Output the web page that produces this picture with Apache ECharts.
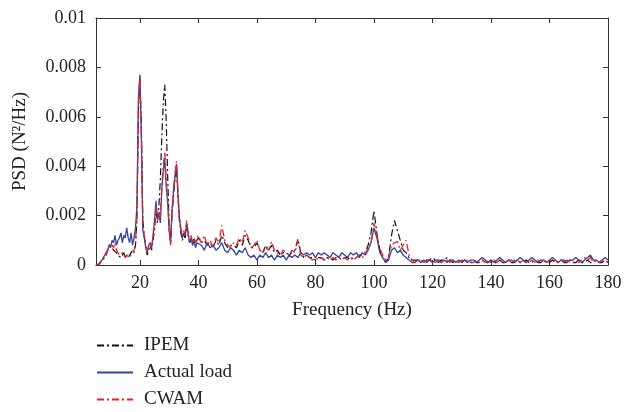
<!DOCTYPE html>
<html>
<head>
<meta charset="utf-8">
<script src="https://cdn.jsdelivr.net/npm/echarts@6/dist/echarts.min.js"></script>
<style>
html,body{margin:0;padding:0;background:#fff;}
#chart{width:624px;height:412px;}
</style>
</head>
<body>
<div id="chart"></div>
<script>
// Frequency grid (Hz)
const freq = [
5,5.5,6,6.5,7,7.5,8,8.5,9,9.5,10,10.5,11,11.5,12,12.5,13,13.5,14,14.5,
15,15.5,16,16.5,17,17.5,18,18.5,19,19.5,20,20.5,21,21.5,22,22.5,23,23.5,24,24.5,
25,25.5,26,26.5,27,27.5,28,28.5,29,29.5,30,30.5,31,31.5,32,32.5,33,33.5,34,34.5,
35,35.5,36,36.5,37,37.5,38,38.5,39,39.5,40,
41,42,43,44,45,46,47,48,49,50,51,52,53,54,55,56,57,58,59,60,
61,62,63,64,65,66,67,68,69,70,71,72,73,74,75,76,77,78,79,80,
81,82,83,84,85,86,87,88,89,90,91,92,93,94,95,96,97,98,99,100,
101,102,103,104,105,106,107,108,109,110,111,112,113,114,115,116,117,118,119,120,
121,122,123,124,125,126,127,128,129,130,131,132,133,134,135,136,137,138,139,140,
141,142,143,144,145,146,147,148,149,150,151,152,153,154,155,156,157,158,159,160,
161,162,163,164,165,166,167,168,169,170,171,172,173,174,175,176,177,178,179,180
];

const ipem = [
0,0,0,0.0001,0.0002,0.0002,0.0003,0.0004,0.0006,0.0007,
0.0008,0.0007,0.0006,0.0006,0.0005,0.0004,0.0004,0.0003,0.0004,0.0005,
0.0003,0.0004,0.0003,0.0004,0.0005,0.0006,0.0005,0.0008,0.0018,0.0062,
0.0076,0.0056,0.0018,0.0012,0.0007,0.0004,0.0006,0.0008,0.0006,0.001,
0.0014,0.0022,0.0017,0.0024,0.0035,0.0052,0.0066,0.0073,0.0058,0.0036,
0.0016,0.0009,0.0021,0.0028,0.0035,0.004,0.0028,0.0018,0.0013,0.001,
0.0012,0.0011,0.0016,0.0012,0.0009,0.0011,0.0008,0.0011,0.0009,0.001,
0.0011,
0.0009,0.001,0.0008,0.0009,0.0007,0.001,0.0008,0.0012,0.0009,0.0007,
0.0008,0.0008,0.0007,0.001,0.0008,0.0012,0.001,0.0007,0.0007,0.0009,
0.0006,0.0005,0.0008,0.0006,0.0008,0.0005,0.0006,0.0004,0.0005,0.0005,
0.0004,0.0005,0.0006,0.00105,0.0005,0.0003,0.0004,0.0003,0.0003,0.0002,
0.0003,0.0003,0.0002,0.0003,0.0003,0.0002,0.0003,0.0003,0.0002,0.0003,
0.0003,0.0002,0.0003,0.0003,0.0004,0.0004,0.0005,0.0008,0.0013,0.0022,
0.0013,0.0006,0.0003,0.0001,0.0003,0.0012,0.0018,0.0014,0.001,0.0006,
0.0005,0.0003,0.0002,0.0002,0.0002,
0.0002,0.0001,0.0002,0.0002,0.0003,0.0002,0.0001,0.0002,0.0002,0.0003,
0.0002,0.0001,0.0002,0.0001,0.0001,0.0002,0.0001,0.0001,0.0002,0.0001,
0.0001,0.0002,0.0001,0.0001,0.0002,0.0001,0.0001,0.0002,0.0001,0.0001,
0.0002,0.0001,0.0001,0.0002,0.0001,0.0001,0.0002,0.0001,0.0001,0.0002,
0.0001,0.0001,0.0002,0.0001,0.0001,0.0002,0.0001,0.0001,0.0002,0.0001,
0.0001,0.0002,0.0001,0.0001,0.0002,0.0001,0.0001,0.0002,0.0001,0.0001,
0.0002,0.0001,0.0001,0.0002,0.0001
];

const actualLoad = [
0,0,0.00005,0.0001,0.0002,0.0003,0.0004,0.0005,0.0006,0.0008,
0.0007,0.001,0.0009,0.0012,0.0008,0.001,0.0011,0.0013,0.0009,0.0012,
0.0011,0.0015,0.0011,0.0009,0.0013,0.0008,0.0011,0.0015,0.0024,0.0068,
0.0077,0.0052,0.0014,0.0011,0.0007,0.0005,0.0008,0.0009,0.0007,0.0012,
0.0018,0.0026,0.0019,0.0021,0.0017,0.0031,0.0038,0.0043,0.0032,0.0025,
0.0014,0.0009,0.0022,0.003,0.0036,0.0041,0.0029,0.0019,0.0015,0.0011,
0.0013,0.0012,0.0017,0.0013,0.0009,0.0011,0.0008,0.001,0.0007,0.0009,
0.0009,
0.0008,0.0006,0.0009,0.0007,0.0008,0.0006,0.0007,0.0009,0.0006,0.0005,
0.0007,0.0006,0.0004,0.0006,0.0005,0.0007,0.0004,0.0003,0.0004,0.0002,
0.0004,0.0003,0.0005,0.0003,0.0004,0.0002,0.0004,0.0003,0.0004,0.0002,
0.0004,0.0003,0.0004,0.0003,0.0005,0.0004,0.0005,0.0004,0.0005,0.0003,
0.0005,0.0004,0.0005,0.0004,0.0003,0.0005,0.0004,0.0003,0.0005,0.0004,
0.0003,0.0005,0.0004,0.0005,0.0003,0.0005,0.0004,0.0006,0.0009,0.0015,
0.0011,0.0005,0.0003,0.0001,0.0002,0.0006,0.0007,0.0005,0.0006,0.0004,
0.0003,0.0002,0.0001,0.0001,0.0002,
0.0001,0.0002,0.0001,0.0002,0.0001,0.0002,0.0002,0.0001,0.0002,0.0001,
0.0002,0.0002,0.0001,0.0002,0.0001,0.0002,0.0001,0.0002,0.0002,0.0001,
0.0002,0.0003,0.0002,0.0001,0.0002,0.0001,0.0002,0.0003,0.0002,0.0001,
0.0002,0.0002,0.0001,0.0002,0.0003,0.0002,0.0001,0.0002,0.0003,0.0002,
0.0001,0.0002,0.0002,0.0001,0.0002,0.0003,0.0002,0.0001,0.0002,0.0002,
0.0001,0.0002,0.0002,0.0003,0.0002,0.0001,0.0002,0.0003,0.0004,0.0002,
0.0002,0.0001,0.0002,0.0003,0.0002
];

const cwam = [
0,0,0,0.0001,0.0002,0.0002,0.0003,0.0005,0.0006,0.0008,
0.0009,0.0008,0.0007,0.0009,0.0006,0.0005,0.0004,0.0004,0.0005,0.0004,
0.0003,0.0004,0.0003,0.0003,0.0004,0.0005,0.0006,0.0009,0.0021,0.0065,
0.0076,0.0054,0.0016,0.0012,0.0008,0.0005,0.0007,0.0009,0.0007,0.0011,
0.0016,0.0024,0.0018,0.0022,0.0019,0.0032,0.004,0.0046,0.0034,0.0027,
0.0015,0.0008,0.0023,0.0031,0.0037,0.0042,0.003,0.002,0.0014,0.0012,
0.0014,0.0012,0.0018,0.0012,0.001,0.0012,0.0009,0.0011,0.0009,0.0011,
0.0012,
0.0009,0.0012,0.0008,0.001,0.0007,0.0011,0.0009,0.0016,0.001,0.0008,
0.0007,0.0009,0.0008,0.0011,0.0009,0.0014,0.0011,0.0007,0.0008,0.001,
0.0006,0.0005,0.0007,0.0006,0.00095,0.0006,0.0005,0.0004,0.0006,0.0005,
0.0004,0.0006,0.0005,0.001,0.0004,0.0003,0.0004,0.0003,0.0002,0.0003,
0.0002,0.0003,0.0002,0.0003,0.0002,0.0003,0.0002,0.0003,0.0002,0.0003,
0.0002,0.0003,0.0002,0.0003,0.0004,0.0003,0.0004,0.0007,0.0009,0.0017,
0.0012,0.0007,0.0004,0.0002,0.0003,0.0008,0.0009,0.00095,0.0006,0.0008,
0.001,0.0004,0.0002,0.0001,0.0002,
0.0002,0.0001,0.0002,0.0001,0.0002,0.0001,0.0002,0.0001,0.0002,0.0002,
0.0001,0.0002,0.0001,0.0001,0.0002,0.0001,0.0002,0.0001,0.0001,0.0002,
0.0001,0.0002,0.0001,0.0002,0.0001,0.0002,0.0001,0.0002,0.0001,0.0001,
0.0002,0.0001,0.0002,0.0002,0.0001,0.0002,0.0001,0.0001,0.0002,0.0001,
0.0002,0.0001,0.0002,0.0001,0.0002,0.0001,0.0002,0.0001,0.0002,0.0001,
0.0002,0.0001,0.0001,0.0002,0.0001,0.0002,0.0003,0.0002,0.0003,0.0001,
0.0002,0.0001,0.0002,0.0002,0.0001
];

const xTicks = [20, 40, 60, 80, 100, 120, 140, 160, 180];
const seriesNames = ['IPEM', 'Actual load', 'CWAM'];

function pairs(vals) { return freq.map((f, i) => [f, vals[i]]); }

const FONT = 'Liberation Serif';
const TXT = '#222';
const AX = '#333';

const chart = echarts.init(document.getElementById('chart'), null, {renderer: 'canvas'});

const baseX = {
  type: 'value', min: 5, max: 180,
  axisLine: {show: true, onZero: false, lineStyle: {color: AX, width: 1}},
  axisTick: {show: true, inside: true, length: 5, customValues: xTicks, lineStyle: {color: AX}},
  splitLine: {show: false}
};
const baseY = {
  type: 'value', min: 0, max: 0.01, interval: 0.002,
  axisLine: {show: true, onZero: false, lineStyle: {color: AX, width: 1}},
  axisTick: {show: true, inside: true, length: 5, lineStyle: {color: AX}},
  splitLine: {show: false}
};

chart.setOption({
  animation: false,
  backgroundColor: '#fff',
  grid: {left: 96, right: 16, top: 18, bottom: 147, containLabel: false, outerBoundsMode: 'none'},
  legend: {
    orient: 'vertical', left: 96, top: 336, height: 90,
    itemWidth: 36, itemHeight: 14, itemGap: 8, padding: 0,
    data: seriesNames,
    itemStyle: {opacity: 0},
    textStyle: {fontFamily: FONT, fontSize: 19, lineHeight: 14, color: TXT, padding: [0, 0, 0, 6]}
  },
  xAxis: [
    Object.assign({}, baseX, {
      position: 'bottom',
      name: 'Frequency (Hz)', nameLocation: 'middle', nameGap: 36,
      nameTextStyle: {fontFamily: FONT, fontSize: 19, color: TXT},
      axisLabel: {show: true, customValues: xTicks, margin: 9, fontFamily: FONT, fontSize: 18, color: TXT}
    }),
    Object.assign({}, baseX, {position: 'top', axisLabel: {show: false}})
  ],
  yAxis: [
    Object.assign({}, baseY, {
      position: 'left',
      name: 'PSD (N\u00B2/Hz)', nameLocation: 'middle', nameGap: 66, nameRotate: 90,
      nameTextStyle: {fontFamily: FONT, fontSize: 19, color: TXT},
      axisLabel: {show: true, margin: 10, fontFamily: FONT, fontSize: 18, color: TXT}
    }),
    Object.assign({}, baseY, {position: 'right', axisLabel: {show: false}})
  ],
  series: [
    {name: 'IPEM', type: 'line', xAxisIndex: 0, yAxisIndex: 0, data: pairs(ipem),
     showSymbol: false, symbol: 'none', color: '#111',
     lineStyle: {color: '#111', width: 1.2, type: [7, 3, 2, 3]}},
    {name: 'Actual load', type: 'line', xAxisIndex: 0, yAxisIndex: 0, data: pairs(actualLoad),
     showSymbol: false, symbol: 'none', color: '#3443a0',
     lineStyle: {color: '#3443a0', width: 1.3, type: 'solid'}},
    {name: 'CWAM', type: 'line', xAxisIndex: 0, yAxisIndex: 0, data: pairs(cwam),
     showSymbol: false, symbol: 'none', color: '#e8202a',
     lineStyle: {color: '#e8202a', width: 1.3, type: [7, 3, 2, 3]}}
  ]
});
</script>
</body>
</html>
